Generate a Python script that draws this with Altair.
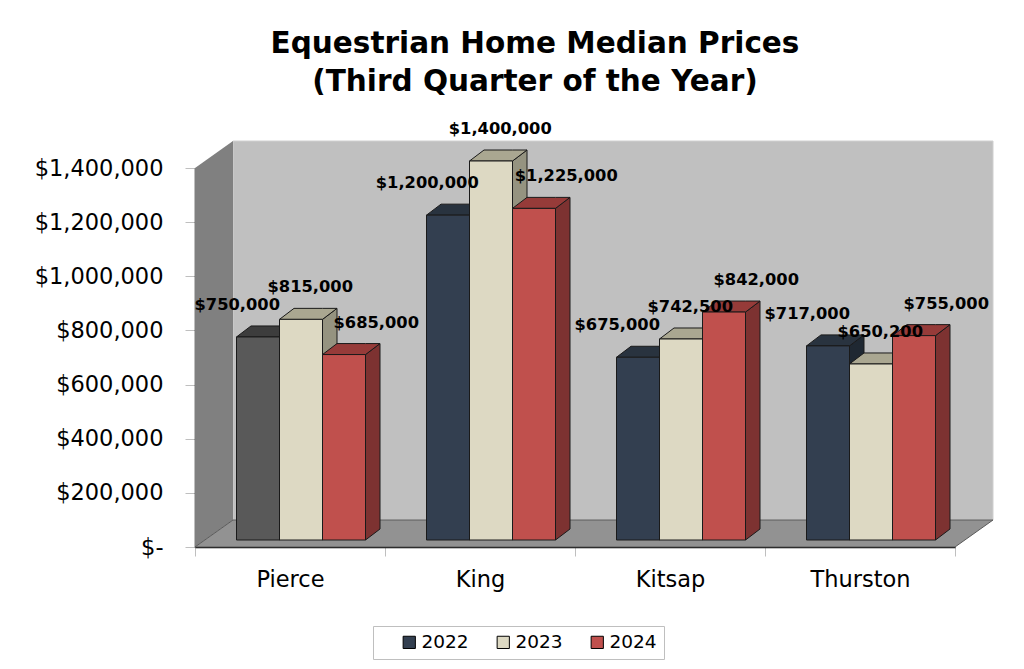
import altair as alt
import pandas as pd

# ---------------- data ----------------
counties = ["Pierce", "King", "Kitsap", "Thurston"]
years = ["2022", "2023", "2024"]
price_2022 = [750000, 1200000, 675000, 717000]
price_2023 = [815000, 1400000, 742500, 650200]
price_2024 = [685000, 1225000, 842000, 755000]
y_ticks = [0, 200000, 400000, 600000, 800000, 1000000, 1200000, 1400000]
title_lines = ["Equestrian Home Median Prices", "(Third Quarter of the Year)"]

# ---------------- styles ----------------
FONT = "DejaVu Sans"
front_colors = ["#333f50", "#ddd9c3", "#c0504d"]
top_colors = ["#29333f", "#aaa791", "#963b39"]
side_colors = ["#1f2832", "#959380", "#7d3231"]
label_nudge_px = [-28, 2, 25]          # horizontal label nudge per series (pixels)
odd_front, odd_top, odd_side = "#595959", "#3d3d3d", "#333333"
ODD_TEST = "datum.county === 'Pierce' && datum.year === '2022'"

W, H = 760, 379
Y_MAX = 1400000
N = len(counties)
UX = N / W          # x data units per pixel
UY = Y_MAX / H      # y data units per pixel
WALL_DX, WALL_DY = 38 * UX, 27 * UY
BAR_DX, BAR_DY = 14.5 * UX, 11 * UY
SHIFT_DX, SHIFT_DY = 11 * UX, 7 * UY
BAR_W = 43 * UX
GROUP_PAD = (1 - 3 * BAR_W) / 2

# ---------------- geometry tables ----------------
series = [price_2022, price_2023, price_2024]
front_rows, top_rows, side_rows = [], [], []
for ci, c in enumerate(counties):
    for j, yr in enumerate(years):
        v = series[j][ci]
        x0 = ci + GROUP_PAD + j * BAR_W + SHIFT_DX
        x1 = x0 + BAR_W
        y0 = SHIFT_DY
        y1 = y0 + v
        bid = f"{c}-{yr}"
        front_rows.append(dict(county=c, year=yr, value=v, x0=x0, x1=x1, y0=y0, y1=y1,
                               lx=(x0 + x1) / 2 + BAR_DX / 2 + label_nudge_px[j] * UX,
                               ly=y1 + BAR_DY))
        for xx, lo, hi in [(x0, y1, y1), (x0 + BAR_DX, y1, y1 + BAR_DY),
                           (x1, y1, y1 + BAR_DY), (x1 + BAR_DX, y1 + BAR_DY, y1 + BAR_DY)]:
            top_rows.append(dict(id=bid, county=c, year=yr, x=xx, lo=lo, hi=hi))
        for xx, lo, hi in [(x1, y0, y1), (x1 + BAR_DX, y0 + BAR_DY, y1 + BAR_DY)]:
            side_rows.append(dict(id=bid, county=c, year=yr, x=xx, lo=lo, hi=hi))

front_df = pd.DataFrame(front_rows)
top_df = pd.DataFrame(top_rows)
side_df = pd.DataFrame(side_rows)
back_df = pd.DataFrame([dict(x0=WALL_DX, x1=N + WALL_DX, y0=WALL_DY, y1=Y_MAX + WALL_DY)])
left_df = pd.DataFrame(dict(x=[0, WALL_DX], lo=[0, WALL_DY], hi=[Y_MAX, Y_MAX + WALL_DY]))
floor_df = pd.DataFrame(dict(x=[0, WALL_DX, N, N + WALL_DX], lo=[0, 0, 0, WALL_DY],
                             hi=[0, WALL_DY, WALL_DY, WALL_DY]))

xs = alt.Scale(domain=[0, N], nice=False, zero=False)
ys = alt.Scale(domain=[0, Y_MAX], nice=False, zero=False)

x_axis = alt.Axis(values=list(range(N + 1)), labelExpr=f"{counties}[datum.value] || ''",
                  labelOffset=W / N / 2, labelFlush=False, labelFontSize=22.5, labelFont=FONT,
                  labelColor="black", tickColor="#bfbfbf", tickSize=9, labelPadding=12,
                  domainColor="black", domainWidth=1.5, grid=False, title=None, labelAngle=0,
                  labelOverlap=False)
y_axis = alt.Axis(values=y_ticks,
                  labelExpr="datum.value == 0 ? '$-\u00a0\u00a0' : '$' + format(datum.value, ',')",
                  labelFontSize=22.5, labelFont=FONT, labelColor="black", tickColor="#bfbfbf",
                  tickSize=10, labelPadding=22, domainColor="black", domainWidth=1.5,
                  grid=False, title=None, labelOverlap=False)


def X(f):
    return alt.X(f, scale=xs, axis=x_axis)


def Y(f):
    return alt.Y(f, scale=ys, axis=y_axis, stack=None)


back = alt.Chart(back_df).mark_rect(fill="#c0c0c0", stroke="#d0d0d0", strokeWidth=1).encode(
    x=X("x0:Q"), x2="x1:Q", y=Y("y0:Q"), y2="y1:Q")

left = alt.Chart(left_df).mark_area(fill="#808080", interpolate="linear").encode(
    x=X("x:Q"), y=Y("lo:Q"), y2="hi:Q")

floor = alt.Chart(floor_df).mark_area(fill="#929292", stroke="#5a5a5a", strokeWidth=1,
                                      interpolate="linear").encode(
    x=X("x:Q"), y=Y("lo:Q"), y2="hi:Q")

sides = alt.Chart(side_df).mark_area(stroke="#1a1a1a", strokeWidth=1, interpolate="linear").encode(
    x=X("x:Q"), y=Y("lo:Q"), y2="hi:Q", detail="id:N",
    color=alt.condition(ODD_TEST, alt.value(odd_side),
                        alt.Color("year:N", scale=alt.Scale(domain=years, range=side_colors), legend=None)))

tops = alt.Chart(top_df).mark_area(stroke="#1a1a1a", strokeWidth=1, interpolate="linear").encode(
    x=X("x:Q"), y=Y("lo:Q"), y2="hi:Q", detail="id:N",
    color=alt.condition(ODD_TEST, alt.value(odd_top),
                        alt.Color("year:N", scale=alt.Scale(domain=years, range=top_colors), legend=None)))

legend = alt.Legend(orient="none", legendX=178, legendY=458, direction="horizontal", title=None,
                    symbolType="square", symbolSize=150, symbolStrokeColor="black",
                    symbolStrokeWidth=1, labelFontSize=18.5, labelFont=FONT, labelColor="black",
                    strokeColor="#bfbfbf", fillColor="white", padding=7, columnPadding=5,
                    labelOffset=3, symbolOffset=20)

fronts = alt.Chart(front_df).mark_rect(stroke="#1a1a1a", strokeWidth=1).encode(
    x=X("x0:Q"), x2="x1:Q", y=Y("y0:Q"), y2="y1:Q",
    color=alt.condition(ODD_TEST, alt.value(odd_front),
                        alt.Color("year:N", scale=alt.Scale(domain=years, range=front_colors),
                                  legend=legend)))

labels = alt.Chart(front_df).transform_calculate(
    label="'$' + format(datum.value, ',')").mark_text(
    font=FONT, fontSize=16.3, fontWeight="bold", color="black", baseline="alphabetic",
    align="center", dy=-16).encode(
    x=X("lx:Q"), y=Y("ly:Q"), text="label:N")

chart = alt.layer(back, left, floor, sides, tops, fronts, labels).resolve_scale(
    color="independent").properties(
    width=W, height=H,
    title=alt.Title(title_lines, fontSize=29.5, font=FONT, fontWeight="bold", color="black",
                    anchor="middle", dx=-40, offset=24, lineHeight=38),
    autosize=alt.AutoSizeParams(type="none"),
    padding={"left": 187, "top": 160, "right": 61, "bottom": 114},
).configure_view(stroke=None)

chart.save("out.html", embed_options={"renderer": "svg", "actions": False})
